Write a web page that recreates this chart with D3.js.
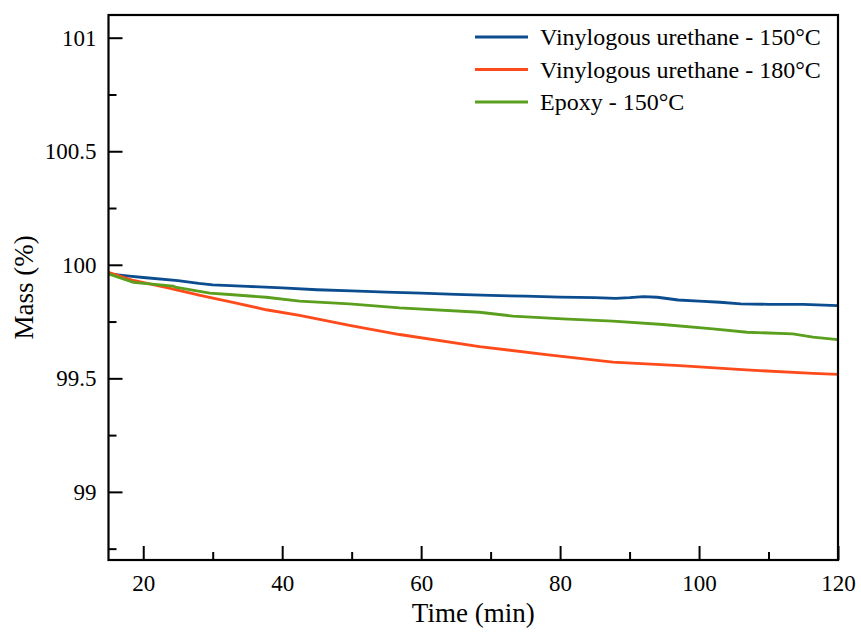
<!DOCTYPE html>
<html>
<head>
<meta charset="utf-8">
<script src="https://cdn.jsdelivr.net/npm/d3@7"></script>
<style>
  body { margin: 0; background: #fff; }
  text { font-family: "Liberation Serif", "Times New Roman", serif; fill: #000; }
</style>
</head>
<body>
<svg id="vis-1"></svg>
<script>
WIDTH = 861;
HEIGHT = 633;

// time (min) sampled along each curve
const timeVU150 = [15, 18, 20, 25, 28, 30, 35, 40, 45, 50, 55, 60, 65, 70, 75, 80, 85, 88, 90, 92, 94, 97, 100, 103, 106, 110, 115, 118, 120];
const massVU150 = [99.96, 99.95, 99.944, 99.93, 99.918, 99.912, 99.905, 99.898, 99.89, 99.885, 99.88, 99.875, 99.87, 99.865, 99.862, 99.858, 99.855, 99.852, 99.855, 99.86, 99.857, 99.845, 99.84, 99.835, 99.828, 99.826, 99.826, 99.822, 99.82];

const timeVU180 = [15, 18.6, 23.4, 28.2, 32.9, 37.7, 42.5, 49.7, 56.9, 68.4, 78, 87.6, 97.2, 106.8, 116.4, 120];
const massVU180 = [99.967, 99.931, 99.899, 99.865, 99.835, 99.802, 99.777, 99.733, 99.693, 99.64, 99.604, 99.571, 99.556, 99.537, 99.522, 99.517];

const timeEpoxy = [15, 18.6, 24.3, 24.8, 29.6, 32.9, 37.7, 42.5, 49.7, 56.9, 68.4, 73.2, 80.4, 87.6, 94.8, 102, 106.9, 113.5, 116.4, 120];
const massEpoxy = [99.96, 99.923, 99.906, 99.9, 99.875, 99.868, 99.857, 99.84, 99.828, 99.81, 99.791, 99.774, 99.762, 99.752, 99.737, 99.718, 99.703, 99.696, 99.681, 99.67];

const seriesNames = ["Vinylogous urethane - 150°C", "Vinylogous urethane - 180°C", "Epoxy - 150°C"];
const seriesColors = ["#0b4d8f", "#ff4b1b", "#5b9f1f"];

const xMajor = [20, 40, 60, 80, 100, 120];
const xMinor = [30, 50, 70, 90, 110];
const yMajor = [99, 99.5, 100, 100.5, 101];
const yMinor = [98.75, 99.25, 99.75, 100.25, 100.75];

const FONT = "Liberation Serif, Times New Roman, serif";
const margin = {left: 108.5, right: 23, top: 15, bottom: 73};

const SVG = d3.select("#vis-1")
    .attr("width", WIDTH)
    .attr("height", HEIGHT)
    .style("display", "block");

const x = d3.scaleLinear().domain([15, 120]).range([margin.left, WIDTH - margin.right]);
const y = d3.scaleLinear().domain([98.7, 101.1]).range([HEIGHT - margin.bottom, margin.top]);

const series = [
    d3.zip(timeVU150, massVU150),
    d3.zip(timeVU180, massVU180),
    d3.zip(timeEpoxy, massEpoxy)
];

const line = d3.line().x(d => x(d[0])).y(d => y(d[1]));

SVG.append("g")
    .selectAll("path")
    .data(series)
    .join("path")
    .attr("fill", "none")
    .attr("stroke", (d, i) => seriesColors[i])
    .attr("stroke-width", 2.8)
    .attr("d", line);

// axes, ticks pointing inward
SVG.append("g")
    .attr("class", "axis")
    .attr("transform", `translate(0,${y.range()[0]})`)
    .call(d3.axisBottom(x).tickValues(xMajor).tickSize(-14).tickPadding(15));
SVG.append("g")
    .attr("class", "axis")
    .attr("transform", `translate(0,${y.range()[0]})`)
    .call(d3.axisBottom(x).tickValues(xMinor).tickSize(-8).tickFormat(""));

SVG.append("g")
    .attr("class", "axis")
    .attr("transform", `translate(${x.range()[0]},0)`)
    .call(d3.axisLeft(y).tickValues(yMajor).tickSize(-14).tickPadding(12).tickFormat(d3.format("")));
SVG.append("g")
    .attr("class", "axis")
    .attr("transform", `translate(${x.range()[0]},0)`)
    .call(d3.axisLeft(y).tickValues(yMinor).tickSize(-8).tickFormat(""));

SVG.selectAll(".axis").attr("font-family", FONT).attr("font-size", 23);
SVG.selectAll(".domain").remove();
SVG.selectAll(".tick line").attr("stroke", "#000").attr("stroke-width", 2);
SVG.selectAll(".tick text")
    .attr("font-family", FONT)
    .attr("font-size", 23)
    .attr("fill", "#000");

// frame
SVG.append("rect")
    .attr("x", x.range()[0])
    .attr("y", y.range()[1])
    .attr("width", x.range()[1] - x.range()[0])
    .attr("height", y.range()[0] - y.range()[1])
    .attr("fill", "none")
    .attr("stroke", "#000")
    .attr("stroke-width", 2.2);

// axis titles
SVG.append("text")
    .attr("x", (x.range()[0] + x.range()[1]) / 2)
    .attr("y", 622)
    .attr("text-anchor", "middle")
    .attr("font-family", FONT)
    .attr("font-size", 27)
    .text("Time (min)");

SVG.append("text")
    .attr("transform", `translate(33,${(y.range()[0] + y.range()[1]) / 2}) rotate(-90)`)
    .attr("text-anchor", "middle")
    .attr("font-family", FONT)
    .attr("font-size", 27)
    .text("Mass (%)");

// legend
const legend = SVG.append("g")
    .selectAll("g")
    .data(seriesNames)
    .join("g")
    .attr("transform", (d, i) => `translate(475,${37 + i * 32.5})`);

legend.append("line")
    .attr("x1", 0).attr("x2", 53)
    .attr("stroke", (d, i) => seriesColors[i])
    .attr("stroke-width", 2.8);

legend.append("text")
    .attr("x", 65)
    .attr("dy", "0.35em")
    .attr("font-family", FONT)
    .attr("font-size", 24)
    .text(d => d);
</script>
</body>
</html>
